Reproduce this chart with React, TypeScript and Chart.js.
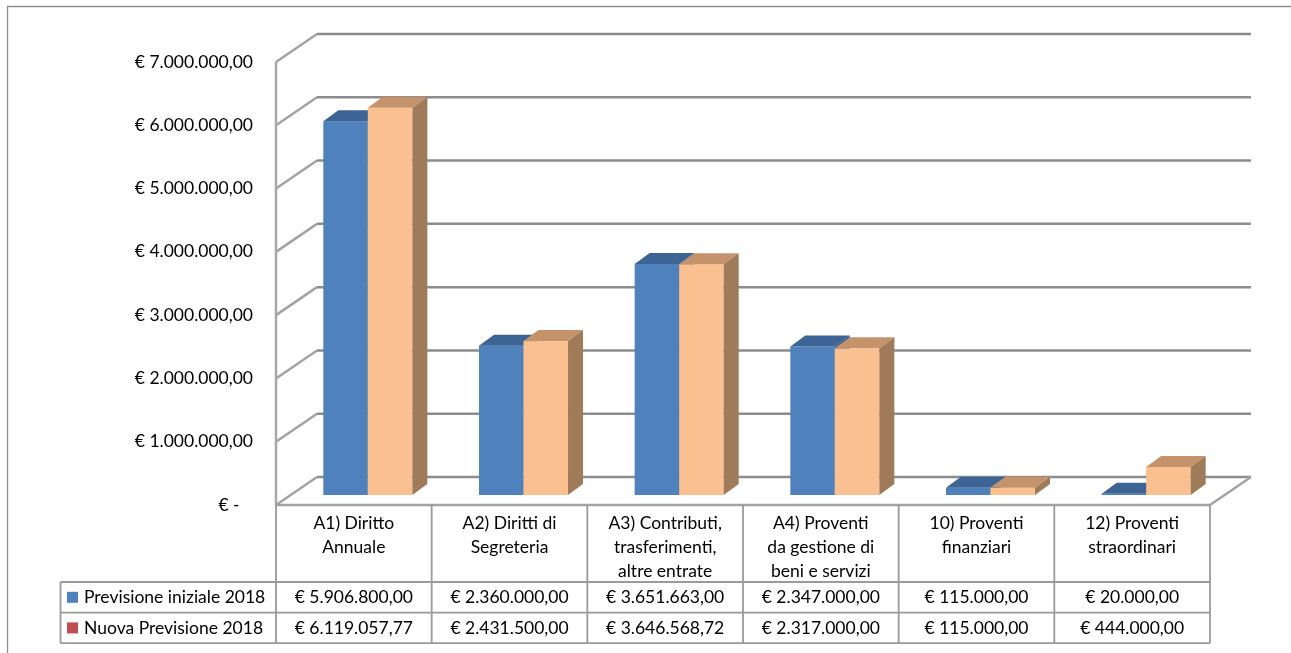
import React, { useEffect, useRef } from "react";
import { Chart, registerables } from "chart.js";

Chart.register(...registerables);

// ---- data ----
const categories: string[][] = [
  ["A1) Diritto", "Annuale"],
  ["A2) Diritti di", "Segreteria"],
  ["A3) Contributi,", "trasferimenti,", "altre entrate"],
  ["A4) Proventi", "da gestione di", "beni e servizi"],
  ["10) Proventi", "finanziari"],
  ["12) Proventi", "straordinari"],
];
const seriesNames = ["Previsione iniziale 2018", "Nuova Previsione 2018"];
const previsioneIniziale = [5906800, 2360000, 3651663, 2347000, 115000, 20000];
const nuovaPrevisione = [6119057.77, 2431500, 3646568.72, 2317000, 115000, 444000];
const yTickValues = [0, 1000000, 2000000, 3000000, 4000000, 5000000, 6000000, 7000000];

// ---- styles ----
const FONT = "Lato, 'Open Sans', sans-serif";
const FONT_SIZE = 17.5;
const seriesFront = ["#4F81BD", "#FAC08F"];
const seriesTop = ["#3C6494", "#C4926B"];
const seriesSide = ["#3A5E89", "#A07B5A"];
const legendSwatch = ["#4F81BD", "#C0504D"];
const WALL_DX = 41;
const WALL_DY = 28;
const BAR_DX = 14;
const BAR_DY = 10;
const DEPTH_DX = 15;
const DEPTH_DY = 11;

function fmtEuro(v: number): string {
  if (v === 0) return "€ -\u00a0\u00a0\u00a0";
  const [i, d] = v.toFixed(2).split(".");
  const ii = i.replace(/\B(?=(\d{3})+(?!\d))/g, ".");
  return `€ ${ii},${d}`;
}

const pseudo3d = {
  id: "pseudo3d",
  beforeDatasetsDraw(chart: any) {
    const ctx = chart.ctx as CanvasRenderingContext2D;
    const { left, right, bottom, top } = chart.chartArea;
    const ys = chart.scales.y;
    ctx.save();
    ctx.lineCap = "butt";
    yTickValues.forEach((v) => {
      const y = ys.getPixelForValue(v);
      ctx.strokeStyle = "#a3a3a3";
      ctx.lineWidth = 2.5;
      ctx.beginPath();
      ctx.moveTo(left, y);
      ctx.lineTo(left + WALL_DX, y - WALL_DY);
      ctx.stroke();
      ctx.strokeStyle = "#8c8c8c";
      ctx.beginPath();
      ctx.moveTo(left + WALL_DX, y - WALL_DY);
      ctx.lineTo(right + WALL_DX, y - WALL_DY);
      ctx.stroke();
    });
    const y0 = ys.getPixelForValue(0);
    ctx.strokeStyle = "#a3a3a3";
    ctx.beginPath();
    ctx.moveTo(right, y0);
    ctx.lineTo(right + WALL_DX, y0 - WALL_DY);
    ctx.stroke();
    ctx.beginPath();
    ctx.moveTo(left, y0);
    ctx.lineTo(right, y0);
    ctx.stroke();
    ctx.strokeStyle = "#a8a8a8";
    ctx.beginPath();
    ctx.moveTo(left, top);
    ctx.lineTo(left, bottom);
    ctx.stroke();
    ctx.restore();
  },
  afterDatasetsDraw(chart: any) {
    const ctx = chart.ctx as CanvasRenderingContext2D;
    const n = chart.data.labels.length;
    ctx.save();
    for (let i = 0; i < n; i++) {
      chart.data.datasets.forEach((_ds: any, di: number) => {
        const el = chart.getDatasetMeta(di).data[i];
        const p = el.getProps(["x", "y", "base", "width"], true);
        const l = p.x - p.width / 2 + BAR_DX;
        const r = p.x + p.width / 2 + BAR_DX;
        const t = p.y - BAR_DY;
        const b = p.base - BAR_DY;
        ctx.fillStyle = seriesFront[di];
        ctx.fillRect(l, t, r - l, b - t);
        ctx.fillStyle = seriesTop[di];
        ctx.beginPath();
        ctx.moveTo(l, t);
        ctx.lineTo(l + DEPTH_DX, t - DEPTH_DY);
        ctx.lineTo(r + DEPTH_DX, t - DEPTH_DY);
        ctx.lineTo(r, t);
        ctx.closePath();
        ctx.fill();
        ctx.fillStyle = seriesSide[di];
        ctx.beginPath();
        ctx.moveTo(r, t);
        ctx.lineTo(r + DEPTH_DX, t - DEPTH_DY);
        ctx.lineTo(r + DEPTH_DX, b - DEPTH_DY);
        ctx.lineTo(r, b);
        ctx.closePath();
        ctx.fill();
      });
    }
    ctx.restore();
  },
  afterDraw(chart: any) {
    const ctx = chart.ctx as CanvasRenderingContext2D;
    const { left, right, bottom } = chart.chartArea;
    const xs = chart.scales.x;
    const n = chart.data.labels.length;
    const colW = (right - left) / n;
    const rowTop = bottom + 77;
    const rowH = 30.6;
    const tableLeft = 60.5;
    ctx.save();
    ctx.strokeStyle = "#8e8e8e";
    ctx.lineWidth = 1.3;
    ctx.beginPath();
    ctx.moveTo(7.5, chart.height);
    ctx.lineTo(7.5, 6.5);
    ctx.lineTo(chart.width, 6.5);
    ctx.stroke();
    ctx.strokeStyle = "#9a9a9a";
    ctx.lineWidth = 1.8;
    ctx.beginPath();
    for (let k = 0; k <= n; k++) {
      const x = left + k * colW;
      ctx.moveTo(x, bottom);
      ctx.lineTo(x, rowTop + 2 * rowH);
    }
    ctx.moveTo(tableLeft, rowTop);
    ctx.lineTo(tableLeft, rowTop + 2 * rowH);
    for (let r = 0; r <= 2; r++) {
      ctx.moveTo(tableLeft, rowTop + r * rowH);
      ctx.lineTo(right, rowTop + r * rowH);
    }
    ctx.stroke();
    ctx.fillStyle = "#000";
    ctx.font = `${FONT_SIZE}px ${FONT}`;
    ctx.textAlign = "center";
    ctx.textBaseline = "middle";
    for (let i = 0; i < n; i++) {
      const cx = xs.getPixelForValue(i);
      const lines: string[] = chart.data.labels[i];
      lines.forEach((ln, li) => ctx.fillText(ln, cx, bottom + 18 + li * 24));
    }
    chart.data.datasets.forEach((ds: any, di: number) => {
      const cy = rowTop + di * rowH + rowH / 2;
      ctx.textAlign = "center";
      ds.data.forEach((v: number, i: number) => {
        ctx.fillText(fmtEuro(v), xs.getPixelForValue(i), cy);
      });
      ctx.fillStyle = legendSwatch[di];
      ctx.fillRect(67, cy - 5.5, 11, 11);
      ctx.fillStyle = "#000";
      ctx.textAlign = "left";
      ctx.fillText(ds.label, 84, cy);
    });
    ctx.restore();
  },
};

export default function App() {
  const ref = useRef<HTMLCanvasElement | null>(null);
  useEffect(() => {
    if (!ref.current) return;
    const chart = new Chart(ref.current, {
      type: "bar",
      data: {
        labels: categories,
        datasets: [
          { label: seriesNames[0], data: previsioneIniziale, backgroundColor: "rgba(0,0,0,0)" },
          { label: seriesNames[1], data: nuovaPrevisione, backgroundColor: "rgba(0,0,0,0)" },
        ],
      },
      options: {
        animation: false,
        responsive: false,
        devicePixelRatio: 1,
        categoryPercentage: 0.572,
        barPercentage: 1,
        layout: { padding: { left: 0, top: 62, right: 81, bottom: 148 } },
        plugins: { legend: { display: false }, tooltip: { enabled: false }, title: { display: false } },
        scales: {
          x: { display: false },
          y: {
            min: 0,
            max: 7000000,
            afterFit: (s: any) => {
              s.width = 276;
            },
            afterBuildTicks: (s: any) => {
              s.ticks = yTickValues.map((v) => ({ value: v }));
            },
            grid: { display: false, drawTicks: false },
            border: { display: false },
            ticks: {
              padding: 23,
              color: "#000",
              font: { family: FONT, size: FONT_SIZE },
              callback: (v: any) => fmtEuro(Number(v)),
            },
          },
        },
      } as any,
      plugins: [pseudo3d],
    });
    return () => chart.destroy();
  }, []);
  return (
    <div style={{ position: "fixed", left: 0, top: 0, width: 1291, height: 653, background: "#fff" }}>
      <canvas ref={ref} width={1291} height={653} style={{ width: 1291, height: 653, display: "block" }} />
    </div>
  );
}
